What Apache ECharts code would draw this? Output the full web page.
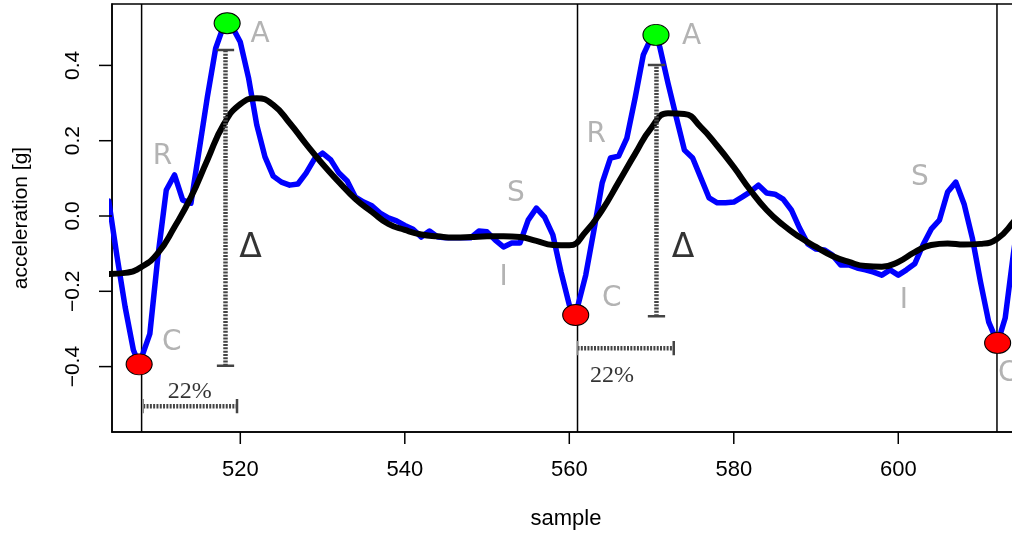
<!DOCTYPE html>
<html>
<head>
<meta charset="utf-8">
<script src="https://cdn.jsdelivr.net/npm/echarts@6/dist/echarts.min.js"></script>
<style>
  html, body { margin: 0; padding: 0; overflow: hidden; background: #fff; }
  #chart { width: 1040px; height: 536px; }
</style>
</head>
<body>
<div id="chart"></div>
<script>
// Raw acceleration trace (blue)
const rawSample = [504, 505, 506, 507, 507.7, 509, 510, 511, 512, 513, 514, 515, 516, 517, 518, 518.4, 519, 520,
  521, 522, 523, 524, 525, 526, 527, 528, 529, 530, 531, 532, 533, 534, 535, 536, 537, 538, 539, 540,
  541, 542, 543, 544, 545, 546, 547, 548, 549, 550, 551, 552, 553, 554, 555, 556, 557, 558, 559, 560,
  560.78, 561, 562, 563, 564, 565, 566, 567, 568, 569, 570, 570.54, 571, 572, 573, 574, 575, 576, 577,
  578, 579, 580, 581, 582, 583, 584, 585, 586, 587, 588, 589, 590, 591, 592, 593, 594, 595, 596, 597,
  598, 599, 600, 601, 602, 603, 604, 605, 606, 607, 608, 609, 610, 611, 612.08, 613, 614, 615];
const rawAccel = [0.040, -0.106, -0.242, -0.356, -0.394, -0.313, -0.104, 0.069, 0.109, 0.042, 0.034, 0.175, 0.317, 0.445, 0.507, 0.512, 0.503, 0.462,
  0.367, 0.242, 0.157, 0.106, 0.090, 0.082, 0.085, 0.114, 0.151, 0.167, 0.149, 0.114, 0.093, 0.050, 0.037, 0.027, 0.008, -0.005, -0.013, -0.025,
  -0.035, -0.056, -0.040, -0.056, -0.058, -0.058, -0.058, -0.058, -0.040, -0.042, -0.064, -0.082, -0.072, -0.072, -0.011, 0.021, -0.003, -0.050, -0.149, -0.236,
  -0.263, -0.242, -0.157, -0.037, 0.088, 0.154, 0.159, 0.207, 0.313, 0.428, 0.475, 0.481, 0.449, 0.353, 0.263, 0.175, 0.154, 0.101, 0.048,
  0.035, 0.035, 0.037, 0.050, 0.064, 0.082, 0.061, 0.058, 0.045, 0.016, -0.032, -0.074, -0.088, -0.090, -0.104, -0.130, -0.130, -0.138, -0.143, -0.149,
  -0.157, -0.143, -0.157, -0.143, -0.127, -0.077, -0.035, -0.011, 0.064, 0.090, 0.032, -0.058, -0.175, -0.282, -0.337, -0.271, -0.100, 0.050];

// Smoothed trace (black)
const smoothSample = [504, 506, 508, 510, 512, 514, 516, 518, 520, 522, 524, 526, 528, 530, 532, 534, 536, 538, 540,
  542, 544, 546, 548, 550, 552, 554, 556, 558, 560, 562, 564, 566, 568, 570, 572, 574, 576, 578, 580,
  582, 584, 586, 588, 590, 592, 594, 596, 598, 600, 602, 604, 606, 608, 610, 612, 614, 616];
const smoothAccel = [-0.154, -0.151, -0.135, -0.098, -0.029, 0.050, 0.149, 0.244, 0.297, 0.313, 0.295, 0.247, 0.191, 0.138, 0.090, 0.045, 0.011, -0.021, -0.037,
  -0.049, -0.054, -0.057, -0.056, -0.054, -0.054, -0.056, -0.066, -0.077, -0.078, -0.042, 0.016, 0.090, 0.165, 0.235, 0.273, 0.271, 0.236, 0.186, 0.130,
  0.069, 0.016, -0.024, -0.056, -0.082, -0.106, -0.122, -0.133, -0.135, -0.122, -0.096, -0.077, -0.073, -0.076, -0.074, -0.061, -0.016, 0.040];

// Beat boundaries
const beatSample = [508, 561, 612];

// Fiducial points: peaks (A) and onsets (C)
const peakSample = [518.4, 570.54];
const peakAccel = [0.512, 0.481];
const onsetSample = [507.7, 560.78, 612.08];
const onsetAccel = [-0.394, -0.263, -0.337];

// Amplitude brackets (Δ)
const deltaSample = [518.2, 570.6];
const deltaTop = [0.441, 0.401];
const deltaBottom = [-0.398, -0.266];

// 22% interval brackets
const spanStart = [508.2, 561.0];
const spanEnd = [519.6, 572.7];
const spanAccel = [-0.505, -0.351];

// Letter annotations
const letterText = ['A', 'R', 'C', 'S', 'I', 'A', 'R', 'C', 'S', 'I', 'C'];
const letterSample = [522.4, 510.54, 511.66, 553.52, 552.02, 574.88, 563.28, 565.16, 602.64, 600.69, 613.3];
const letterAccel = [0.481, 0.158, -0.337, 0.058, -0.163, 0.476, 0.215, -0.220, 0.101, -0.226, -0.420];

const deltaText = ['\u0394', '\u0394'];
const deltaLabelSample = [521.24, 573.82];
const deltaLabelAccel = [-0.085, -0.085];

const pctText = ['22%', '22%'];
const pctSample = [513.85, 565.19];
const pctAccel = [-0.467, -0.425];

// Axes
const xTicks = [520, 540, 560, 580, 600];
const xTickLabels = ['520', '540', '560', '580', '600'];
const yTicks = [-0.4, -0.2, 0, 0.2, 0.4];
const yTickLabels = ['\u22120.4', '\u22120.2', '0.0', '0.2', '0.4'];

const X_MIN = 504.40, X_MAX = 614.80;
const Y_MIN = -0.5737, Y_MAX = 0.5631;
const CAP_X = 1.05;    // half width of horizontal bracket caps, in samples
const CAP_Y = 0.019;   // half height of vertical bracket caps, in g

const zip = (xs, ys) => xs.map((x, i) => [x, ys[i]]);

function segment(x1, y1, x2, y2, lineStyle, z) {
  return {
    type: 'line', data: [[x1, y1], [x2, y2]], showSymbol: false, symbol: 'none',
    silent: true, animation: false, z: z, lineStyle: lineStyle
  };
}

const series = [];
const axisStroke = { color: '#000', width: 1.5 };

// Outward tick marks, placed through the axis scales
series.push({
  type: 'custom', silent: true, animation: false, z: 10, clip: false,
  data: xTicks.map(t => [t, Y_MIN]),
  renderItem: (params, api) => {
    const p = api.coord([api.value(0), api.value(1)]);
    return { type: 'line', shape: { x1: p[0], y1: p[1], x2: p[0], y2: p[1] + 12 },
      style: { stroke: '#000', lineWidth: 1.5 } };
  }
});
series.push({
  type: 'custom', silent: true, animation: false, z: 10, clip: false,
  data: yTicks.map(t => [X_MIN, t]),
  renderItem: (params, api) => {
    const p = api.coord([api.value(0), api.value(1)]);
    return { type: 'line', shape: { x1: p[0] - 13, y1: p[1], x2: p[0], y2: p[1] },
      style: { stroke: '#000', lineWidth: 1.5 } };
  }
});

// Beat boundary verticals
beatSample.forEach(b => series.push(segment(b, Y_MIN, b, Y_MAX, { color: '#000', width: 1.5 }, 1)));

// Raw trace
series.push({
  type: 'line', data: zip(rawSample, rawAccel), showSymbol: false, symbol: 'none',
  animation: false, z: 2, clip: true,
  lineStyle: { color: '#0000ff', width: 5.5, join: 'round', cap: 'round' }
});

// Smoothed trace
series.push({
  type: 'line', data: zip(smoothSample, smoothAccel), showSymbol: false, symbol: 'none',
  animation: false, z: 3, smooth: 0.5, clip: true,
  lineStyle: { color: '#000', width: 6 }
});

// Brackets
const dotted = { color: '#444', width: 4.5, type: [2, 1.3] };
const cap = { color: '#444', width: 2.5 };
deltaSample.forEach((s, i) => {
  series.push(segment(s, deltaBottom[i], s, deltaTop[i], dotted, 4));
  series.push(segment(s - CAP_X, deltaTop[i], s + CAP_X, deltaTop[i], cap, 4));
  series.push(segment(s - CAP_X, deltaBottom[i], s + CAP_X, deltaBottom[i], cap, 4));
});
spanStart.forEach((s, i) => {
  const e = spanEnd[i], y = spanAccel[i];
  series.push(segment(s, y, e, y, dotted, 4));
  series.push(segment(s, y - CAP_Y, s, y + CAP_Y, { color: '#888', width: 1.5 }, 4));
  series.push(segment(e, y - CAP_Y, e, y + CAP_Y, cap, 4));
});

// Fiducial markers
series.push({
  type: 'scatter', data: zip(peakSample, peakAccel), symbol: 'circle', symbolSize: [26, 21],
  animation: false, z: 5, itemStyle: { color: '#00ff00', opacity: 1, borderColor: '#000', borderWidth: 1 }
});
series.push({
  type: 'scatter', data: zip(onsetSample, onsetAccel), symbol: 'circle', symbolSize: [26, 21],
  animation: false, z: 5, clip: false, itemStyle: { color: '#ff0000', opacity: 1, borderColor: '#000', borderWidth: 1 }
});

// Text annotations
function textSeries(texts, xs, ys, style) {
  return {
    type: 'scatter', symbolSize: 1, animation: false, z: 6, silent: true, clip: false,
    itemStyle: { color: 'rgba(0,0,0,0)' },
    data: texts.map((t, i) => ({ name: t, value: [xs[i], ys[i]] })),
    label: Object.assign({ show: true, position: 'inside', formatter: p => p.name }, style)
  };
}
series.push(textSeries(letterText, letterSample, letterAccel,
  { color: '#a0a0a0', fontSize: 28, fontFamily: 'DejaVu Sans' }));
series.push(textSeries(deltaText, deltaLabelSample, deltaLabelAccel,
  { color: '#000', fontSize: 33, fontFamily: 'DejaVu Sans' }));
series.push(textSeries(pctText, pctSample, pctAccel,
  { color: '#000', fontSize: 24, fontFamily: 'Liberation Serif' }));

const chart = echarts.init(document.getElementById('chart'), null, { renderer: 'canvas' });
chart.setOption({
  animation: false,
  backgroundColor: '#fff',
  grid: { left: 112, top: 4, right: 20, bottom: 104, show: true, borderColor: '#000', borderWidth: 1.5 },
  xAxis: {
    type: 'value', min: X_MIN, max: X_MAX,
    axisLine: { show: true, onZero: false, lineStyle: axisStroke }, splitLine: { show: false },
    axisTick: { show: false },
    axisLabel: {
      customValues: xTicks, margin: 27, fontSize: 22, color: '#000', fontFamily: 'Liberation Sans',
      formatter: v => xTickLabels[xTicks.indexOf(v)]
    },
    name: 'sample', nameLocation: 'middle', nameGap: 76,
    nameTextStyle: { fontSize: 22, color: '#000', fontFamily: 'Liberation Sans' }
  },
  yAxis: {
    type: 'value', min: Y_MIN, max: Y_MAX,
    axisLine: { show: true, onZero: false, lineStyle: axisStroke }, splitLine: { show: false },
    axisTick: { show: false },
    axisLabel: {
      customValues: yTicks, rotate: 90, margin: 28, fontSize: 21, color: '#000', fontFamily: 'Liberation Sans',
      formatter: v => yTickLabels[yTicks.findIndex(t => Math.abs(t - v) < 1e-9)]
    },
    name: 'acceleration [g]', nameLocation: 'middle', nameGap: 80, nameRotate: 90,
    nameTextStyle: { fontSize: 21, color: '#000', fontFamily: 'Liberation Sans' }
  },
  series: series
});
</script>
</body>
</html>
